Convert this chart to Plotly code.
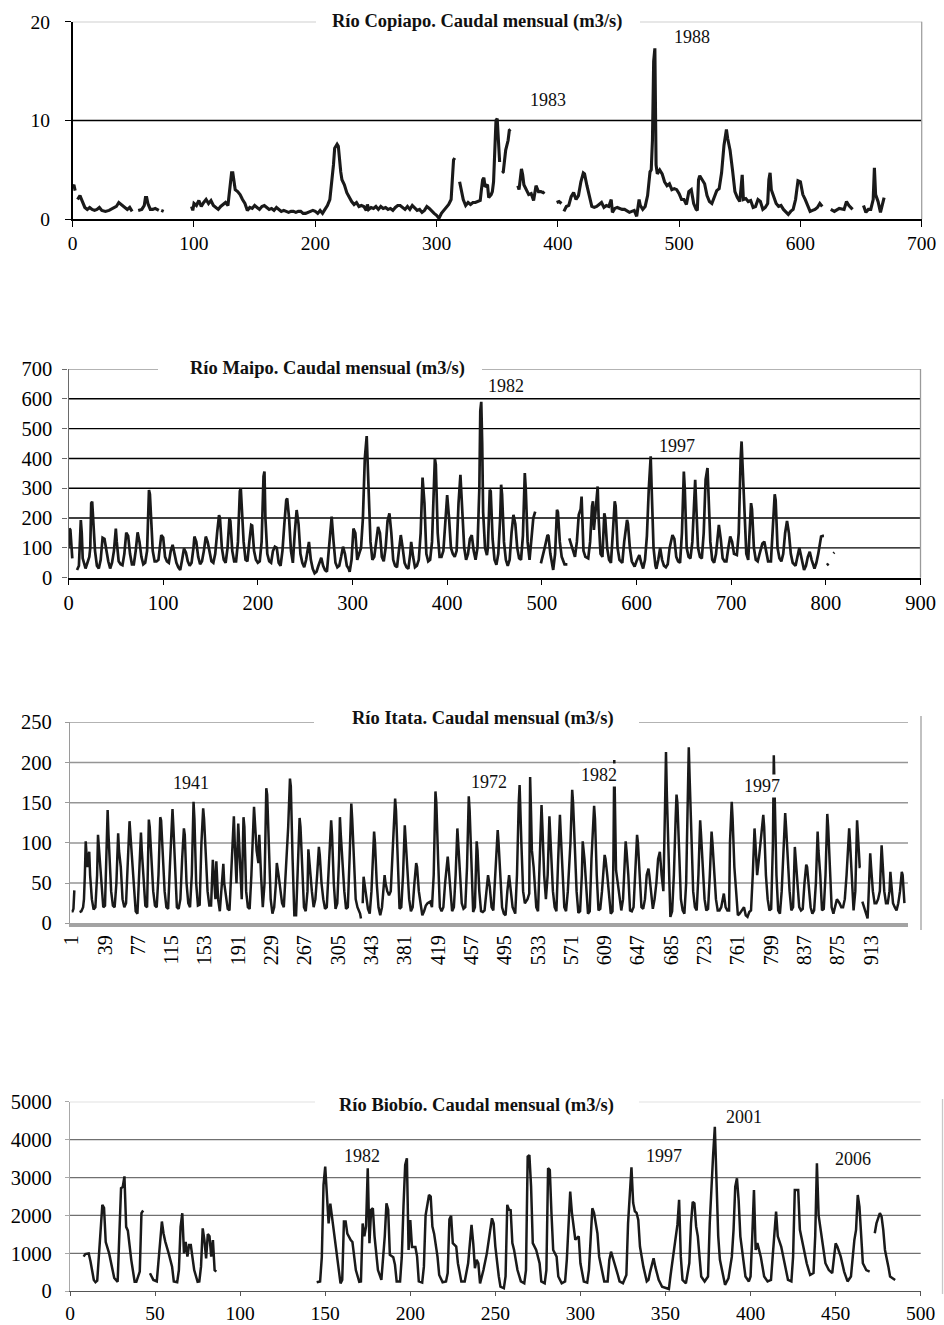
import plotly.graph_objects as go

W, H = 944, 1325

# ---------------------------------------------------------------
# Monthly discharge records, (month index, m3/s); None = gap
# ---------------------------------------------------------------
copiapo = [
    (0, 3.3), (1, 3.5), (2, 2.9), None,
    (4, 2.0), (6, 2.4), (7, 2.1), (9, 1.6), (10, 1.2), (12, 1.0), (14, 1.2), (16, 1.0), (18, 0.9),
    (20, 1.0), (22, 1.2), (24, 0.9), (27, 0.8), (30, 0.9), (33, 1.1), (36, 1.3), (38, 1.7), (40, 1.5),
    (42, 1.4), (45, 1.0), (47, 1.2), (49, 0.8), None,
    (54, 0.9), (57, 1.0), (59, 1.4), (60, 2.2), (61, 2.2), (62, 1.6), (64, 1.0), (66, 1.0), (68, 1.1),
    (70, 0.9), (71, 0.9), None, (73, 0.9), (75, 0.8), None,
    (98, 1.3), (99, 0.9), (100, 1.6), (102, 1.4), (104, 1.9), (106, 1.3), (108, 1.7), (110, 2.0),
    (112, 1.6), (114, 1.9), (116, 1.4), (118, 1.2), (120, 1.0), (122, 1.3), (124, 1.5), (126, 1.7),
    (128, 1.4), (129, 2.4), (130, 4.0), (131, 4.7), (132, 4.7), (133, 3.8), (134, 3.0), (136, 2.8),
    (138, 2.5), (140, 2.0), (142, 1.6), (144, 0.9), (146, 1.2), (148, 1.1), (150, 1.4), (152, 1.2),
    (154, 1.0), (156, 1.3), (158, 1.4), (160, 1.2), (162, 1.0), (164, 1.1), (166, 0.9), (168, 1.2),
    (170, 1.0), (172, 0.8), (174, 0.9), (176, 0.8), (178, 0.7), (180, 0.8), (182, 0.8), (184, 0.7),
    (186, 0.8), (188, 0.8), (190, 0.6), (192, 0.6), (194, 0.7), (196, 0.8), (198, 0.9), (200, 0.8),
    (202, 0.6), (204, 0.9), (206, 0.6), (208, 1.0), (210, 1.4), (212, 2.0), (214, 4.0), (215, 5.5),
    (216, 7.2), (217, 7.4), (218, 7.6), (219, 7.4), (220, 5.5), (221, 4.8), (222, 4.0), (224, 3.5),
    (226, 2.7), (228, 2.2), (230, 1.8), (232, 1.5), (234, 1.7), (236, 1.3), (238, 1.4), (240, 1.3),
    (242, 0.9), (243, 1.5), (244, 1.0), (246, 1.2), (248, 1.1), (250, 1.3), (252, 1.0), (254, 1.3),
    (256, 1.1), (258, 1.2), (260, 1.0), (262, 1.1), (264, 0.9), (266, 1.2), (268, 1.4), (270, 1.4),
    (272, 1.2), (274, 1.0), (276, 1.3), (278, 1.0), (280, 1.4), (282, 1.1), (284, 0.9), (286, 1.0),
    (288, 0.7), (290, 0.9), (292, 1.3), (294, 1.1), (296, 0.8), (298, 0.6), (300, 0.4), (302, 0.1),
    (304, 0.6), (306, 0.9), (308, 1.3), (310, 1.5), (312, 2.0), (313, 4.0), (314, 6.0), (315, 6.2), None,
    (319, 3.8), (320, 3.2), (322, 2.0), (324, 1.4), (326, 1.7), (328, 1.5), (330, 1.7), (332, 1.7),
    (334, 1.8), (336, 1.9), (337, 3.0), (338, 4.0), (339, 4.2), (340, 3.3), (342, 3.5), (343, 2.2),
    (345, 2.5), (346, 2.8), (347, 3.8), (348, 7.0), (349, 10.0), (350, 10.2), (351, 8.5), (352, 5.8), None,
    (354, 4.7), (355, 4.8), (357, 7.0), (359, 8.0), (360, 9.0), (361, 9.1), None,
    (367, 3.4), (368, 3.0), (370, 5.1), (371, 4.5), (372, 3.5), (374, 3.0), (376, 2.5), (378, 2.6),
    (380, 1.9), (382, 3.4), (384, 2.8), (386, 2.8), (388, 2.7), (389, 2.8), None,
    (399, 1.7), (401, 1.8), (403, 1.6), None,
    (405, 0.8), (407, 1.3), (409, 1.4), (411, 2.3), (413, 2.7), (415, 2.0), (417, 2.4), (419, 3.8),
    (421, 4.7), (422, 4.6), (424, 3.4), (426, 2.2), (428, 1.3), (430, 1.2), (432, 1.3), (434, 1.5),
    (436, 1.7), (438, 1.2), (440, 1.4), (442, 1.3), (444, 2.0), (445, 0.7), (447, 1.1), (449, 1.2),
    (451, 1.1), (453, 1.0), (455, 1.0), (457, 0.8), (459, 0.7), (461, 0.8), (463, 0.9), (465, 0.3),
    (467, 2.0), (468, 1.4), (470, 1.0), (472, 1.3), (474, 2.4), (476, 4.8), (477, 5.0), (478, 8.0),
    (479, 16.0), (480, 17.3), (481, 5.5), (482, 4.6), (484, 5.0), (486, 4.6), (488, 3.8), (490, 3.4),
    (492, 3.6), (494, 3.0), (496, 3.1), (498, 3.0), (500, 2.6), (502, 2.0), (504, 2.0), (506, 1.5),
    (508, 2.8), (510, 3.0), (512, 1.6), (514, 1.0), (515, 0.9), (516, 4.0), (517, 4.4), (519, 4.0),
    (521, 3.6), (523, 2.4), (525, 1.8), (527, 1.6), (529, 2.3), (531, 2.9), (533, 3.1), (535, 4.7),
    (537, 7.5), (539, 9.1), (540, 8.2), (542, 7.0), (544, 5.0), (546, 2.8), (548, 2.2), (550, 1.8),
    (552, 4.5), (553, 2.0), (555, 2.1), (557, 1.8), (559, 1.9), (561, 1.2), (563, 1.3), (565, 2.0),
    (567, 1.8), (569, 1.0), (571, 1.2), (573, 1.6), (574, 4.0), (575, 4.7), (576, 3.0), (578, 2.4),
    (580, 1.6), (582, 1.3), (584, 1.4), (586, 1.0), (588, 0.8), (590, 0.5), (592, 0.8), (594, 1.0),
    (596, 2.0), (598, 3.9), (600, 3.8), (602, 2.5), (604, 2.0), (606, 1.3), (608, 0.8), (610, 0.9),
    (612, 1.0), (614, 1.2), (616, 1.6), (618, 1.3), None,
    (625, 1.0), (628, 0.8), (632, 1.1), (636, 1.0), (638, 1.8), (640, 1.4), (643, 1.0), None,
    (652, 1.4), (654, 0.7), (656, 1.0), (658, 1.0), (660, 2.0), (661, 5.2), (662, 2.5), (664, 1.8),
    (666, 0.7), (668, 1.8), (669, 2.2),
]

maipo = [
    (0, 100), (1, 165), (2, 160), (3, 90), (4, 65), None,
    (9, 26), (11, 40), (13, 193), (14, 150), (15, 65), (17, 40), (18, 31), (20, 50), (22, 70), (23, 100),
    (24, 250), (25, 255), (26, 188), (28, 90), (30, 40), (32, 31), (34, 60), (36, 134), (38, 130),
    (40, 90), (42, 55), (44, 31), (46, 50), (48, 90), (50, 165), (51, 120), (53, 55), (55, 45), (57, 42),
    (59, 80), (61, 151), (63, 140), (65, 80), (67, 45), (69, 45), (71, 90), (73, 152), (75, 120),
    (77, 70), (79, 45), (81, 50), (83, 90), (85, 294), (86, 280), (87, 200), (89, 90), (91, 55),
    (93, 55), (95, 60), (97, 110), (98, 143), (100, 135), (102, 70), (104, 55), (106, 50), (108, 90),
    (110, 110), (112, 80), (114, 50), (116, 35), (118, 26), (120, 60), (122, 98), (124, 85), (126, 55),
    (128, 40), (130, 50), (132, 100), (133, 138), (135, 120), (137, 70), (139, 45), (141, 55), (143, 90),
    (145, 138), (147, 120), (149, 80), (151, 55), (153, 50), (155, 80), (157, 150), (159, 210),
    (160, 200), (162, 100), (164, 60), (166, 50), (168, 100), (170, 200), (171, 190), (173, 90),
    (175, 55), (177, 55), (179, 120), (181, 290), (182, 300), (183, 250), (185, 120), (187, 60),
    (189, 55), (191, 120), (193, 177), (194, 175), (196, 90), (198, 60), (200, 50), (202, 55),
    (204, 120), (206, 340), (207, 356), (208, 200), (210, 80), (212, 55), (214, 50), (216, 90),
    (218, 104), (220, 100), (222, 50), (224, 40), (226, 90), (228, 180), (230, 260), (231, 266),
    (233, 200), (235, 90), (237, 50), (239, 150), (241, 227), (243, 180), (245, 80), (247, 50),
    (249, 35), (251, 60), (253, 110), (254, 120), (256, 60), (258, 30), (260, 15), (262, 20), (264, 40),
    (266, 60), (267, 67), (269, 40), (271, 25), (273, 20), (275, 100), (277, 190), (278, 205),
    (280, 120), (282, 50), (284, 35), (286, 40), (288, 70), (290, 104), (292, 80), (294, 40), (296, 30),
    (297, 20), (299, 60), (301, 165), (303, 150), (305, 60), (307, 80), (309, 100), (311, 200),
    (313, 400), (315, 475), (317, 300), (319, 120), (321, 60), (323, 70), (325, 120), (327, 170),
    (329, 150), (331, 70), (333, 55), (335, 100), (337, 190), (339, 216), (341, 150), (343, 60),
    (345, 40), (347, 35), (349, 90), (351, 143), (353, 100), (355, 50), (357, 35), (359, 30), (361, 80),
    (362, 120), (364, 70), (366, 35), (368, 40), (370, 60), (372, 150), (374, 336), (376, 250),
    (378, 80), (380, 55), (382, 60), (384, 120), (386, 300), (387, 400), (388, 380), (390, 150),
    (392, 70), (394, 70), (396, 90), (398, 180), (400, 277), (402, 200), (404, 100), (406, 80),
    (408, 70), (410, 90), (412, 250), (414, 345), (416, 200), (418, 100), (420, 60), (422, 80),
    (424, 130), (426, 143), (428, 90), (430, 60), (432, 100), (434, 300), (435, 560), (436, 590),
    (437, 450), (438, 220), (440, 100), (442, 76), (443, 100), (445, 295), (446, 290), (448, 130),
    (450, 60), (452, 43), (454, 80), (456, 200), (457, 312), (458, 280), (460, 120), (462, 60),
    (464, 40), (466, 60), (468, 150), (470, 211), (472, 180), (474, 100), (476, 65), (478, 60),
    (480, 140), (482, 351), (483, 300), (485, 120), (487, 60), (489, 120), (491, 200), (493, 222), None,
    (499, 48), (501, 70), (503, 100), (506, 143), (507, 140), (509, 80), (512, 26), (514, 80),
    (516, 228), (517, 220), (519, 120), (521, 70), (524, 45), (527, 45), None,
    (529, 132), (531, 110), (533, 85), (535, 70), (537, 120), (539, 211), (541, 230), (542, 272),
    (544, 90), (546, 70), (549, 65), (551, 120), (553, 240), (554, 256), (555, 160), (557, 250),
    (559, 306), (560, 200), (562, 80), (564, 70), (566, 216), (567, 200), (569, 100), (571, 60),
    (573, 50), (575, 150), (577, 256), (578, 240), (580, 100), (582, 60), (585, 50), (587, 120),
    (590, 194), (591, 180), (593, 100), (595, 55), (598, 37), (600, 55), (603, 76), (605, 50),
    (607, 31), (609, 60), (611, 140), (613, 300), (615, 407), (616, 300), (618, 100), (620, 40),
    (621, 30), (623, 60), (625, 100), (627, 60), (629, 40), (631, 35), (633, 45), (635, 100),
    (638, 143), (640, 130), (642, 70), (644, 55), (646, 50), (648, 150), (650, 356), (651, 300),
    (653, 100), (655, 70), (657, 65), (659, 120), (661, 300), (662, 328), (663, 250), (665, 100),
    (667, 70), (669, 65), (671, 150), (673, 330), (675, 368), (676, 300), (678, 120), (680, 60),
    (682, 50), (684, 80), (686, 150), (687, 177), (689, 130), (691, 65), (693, 55), (695, 55),
    (697, 100), (699, 138), (701, 120), (703, 80), (706, 76), (708, 150), (710, 400), (711, 457),
    (712, 380), (714, 200), (716, 80), (718, 60), (720, 180), (721, 250), (722, 230), (724, 100),
    (726, 60), (728, 55), (730, 80), (733, 115), (735, 121), (737, 80), (739, 55), (742, 55),
    (744, 150), (746, 280), (747, 260), (749, 100), (751, 65), (753, 55), (755, 80), (757, 150),
    (759, 190), (761, 150), (763, 80), (765, 50), (768, 40), (770, 70), (772, 100), (774, 70),
    (777, 26), (779, 40), (781, 70), (783, 87), (785, 60), (788, 31), (790, 50), (792, 80),
    (795, 138), (797, 140), (798, 140), None,
    (801, 42), (803, 47), None,
    (808, 82), (809, 85),
]

itata = [
    (1, 15), (2, 15), (3, 18), (4, 41), None,
    (10, 14), (12, 15), (14, 20), (15, 30), (16, 60), (17, 102), (18, 85), (19, 70), (20, 80), (21, 89),
    (22, 60), (24, 30), (26, 17), (28, 20), (30, 60), (31, 110), (32, 95), (33, 80), (35, 40), (37, 20),
    (39, 22), (41, 90), (42, 141), (43, 110), (44, 80), (46, 40), (48, 22), (50, 20), (52, 50),
    (54, 112), (55, 90), (57, 70), (59, 30), (61, 20), (63, 25), (65, 70), (67, 127), (68, 110),
    (70, 80), (72, 40), (74, 15), (76, 12), (78, 60), (80, 113), (81, 90), (83, 50), (85, 22), (87, 20),
    (89, 129), (90, 120), (92, 70), (94, 40), (96, 22), (98, 20), (100, 60), (102, 132), (103, 128),
    (105, 80), (107, 40), (109, 20), (111, 18), (113, 70), (116, 142), (117, 120), (119, 60), (121, 20),
    (123, 18), (125, 30), (127, 80), (129, 118), (130, 110), (132, 50), (134, 25), (136, 20), (138, 60),
    (140, 151), (141, 130), (143, 50), (145, 22), (147, 23), (149, 100), (151, 143), (152, 130),
    (154, 80), (156, 40), (158, 22), (160, 22), (162, 79), (163, 60), (165, 30), (166, 77), (168, 30),
    (170, 15), (172, 40), (174, 74), (175, 50), (177, 30), (179, 18), (181, 16), (183, 60), (186, 133),
    (187, 100), (189, 50), (191, 124), (193, 80), (195, 30), (197, 132), (198, 120), (200, 40),
    (202, 20), (204, 18), (206, 60), (209, 145), (210, 130), (212, 90), (214, 75), (215, 110), (217, 60),
    (219, 20), (221, 50), (223, 168), (224, 160), (226, 80), (228, 30), (230, 12), (232, 20), (234, 50),
    (235, 75), (237, 60), (239, 45), (241, 25), (243, 20), (245, 60), (248, 120), (250, 180), (251, 170),
    (253, 80), (255, 10), (257, 10), (259, 60), (261, 131), (262, 120), (264, 60), (266, 20), (268, 15),
    (270, 40), (271, 92), (273, 60), (275, 40), (277, 20), (279, 30), (281, 60), (283, 95), (284, 85),
    (286, 50), (288, 30), (290, 18), (292, 20), (294, 70), (297, 128), (298, 110), (300, 50), (302, 18),
    (304, 25), (306, 80), (307, 132), (308, 110), (310, 70), (312, 40), (314, 18), (316, 20), (318, 80),
    (320, 149), (321, 130), (323, 70), (325, 30), (327, 20), (330, 12), (331, 6), None,
    (333, 25), (334, 58), (335, 50), (337, 30), (339, 18), (341, 12), (343, 40), (346, 114), (347, 100),
    (349, 50), (351, 20), (353, 10), (355, 20), (358, 60), (359, 50), (361, 40), (363, 35), (365, 40),
    (367, 90), (370, 155), (371, 140), (373, 70), (375, 18), (377, 20), (379, 60), (381, 122), (382, 100),
    (384, 60), (386, 30), (388, 15), (390, 20), (392, 50), (394, 75), (395, 70), (397, 40), (399, 25),
    (401, 10), (403, 15), (405, 22), (407, 25), (410, 27), (412, 20), (414, 60), (416, 164), (417, 150),
    (419, 80), (421, 20), (423, 15), (425, 20), (427, 50), (430, 83), (431, 70), (433, 40), (435, 15),
    (437, 20), (439, 60), (441, 118), (442, 100), (444, 50), (446, 25), (448, 18), (450, 20), (452, 70),
    (454, 158), (455, 140), (457, 60), (459, 14), (461, 20), (463, 102), (464, 90), (466, 40), (468, 15),
    (470, 14), (472, 16), (474, 40), (476, 60), (478, 45), (480, 20), (482, 16), (484, 60), (487, 116),
    (488, 100), (490, 50), (492, 20), (494, 12), (496, 10), (498, 40), (500, 60), (502, 40), (504, 20),
    (507, 12), (509, 60), (511, 150), (512, 172), (514, 100), (516, 40), (518, 25), (521, 30), (523, 37),
    (524, 182), (525, 140), (526, 91), (528, 70), (530, 30), (531, 20), (533, 15), (535, 80), (537, 147),
    (538, 120), (540, 60), (542, 30), (544, 60), (546, 133), (548, 90), (550, 40), (552, 20), (554, 15),
    (556, 80), (558, 135), (559, 110), (561, 60), (563, 20), (565, 15), (567, 40), (570, 100), (572, 166),
    (573, 150), (575, 80), (577, 40), (579, 13), (581, 15), (583, 60), (584, 102), (586, 80), (588, 40),
    (590, 12), (592, 15), (594, 80), (597, 146), (598, 130), (600, 60), (602, 16), (604, 18), (606, 40),
    (609, 85), (610, 80), (612, 60), (614, 30), (616, 12), (618, 15), (619, 80), (620, 203), (621, 150),
    (622, 66), (624, 50), (626, 30), (628, 16), (630, 30), (633, 102), (634, 90), (636, 60), (638, 16),
    (640, 15), (642, 20), (644, 60), (646, 110), (647, 100), (649, 50), (651, 20), (653, 18), (655, 30),
    (657, 60), (659, 68), (660, 60), (662, 40), (664, 18), (666, 30), (668, 50), (670, 80), (672, 89),
    (674, 60), (676, 40), (678, 150), (679, 213), (680, 160), (682, 80), (684, 8), (686, 15), (688, 60),
    (690, 130), (691, 160), (692, 150), (694, 80), (696, 30), (698, 16), (700, 12), (702, 50), (704, 150),
    (705, 219), (706, 180), (708, 100), (710, 40), (712, 20), (714, 16), (716, 60), (718, 128), (719, 110),
    (721, 60), (723, 30), (725, 16), (727, 18), (729, 60), (731, 114), (732, 100), (734, 60), (736, 30),
    (738, 16), (740, 16), (742, 20), (745, 37), (747, 20), (749, 16), (751, 16), (752, 100), (754, 151),
    (755, 130), (757, 70), (759, 40), (761, 10), (763, 12), (765, 15), (768, 20), (770, 10), (772, 8),
    (774, 14), (776, 16), (778, 60), (780, 118), (781, 100), (783, 60), (785, 80), (787, 100), (790, 135),
    (791, 120), (793, 60), (795, 30), (797, 16), (799, 18), (801, 100), (802, 209), (803, 150), (805, 60),
    (807, 16), (809, 12), (811, 40), (813, 100), (815, 137), (816, 120), (818, 70), (820, 40), (822, 16),
    (824, 20), (826, 95), (827, 80), (829, 40), (831, 20), (833, 16), (835, 18), (837, 50), (839, 73),
    (840, 70), (842, 40), (844, 20), (846, 12), (848, 16), (850, 50), (852, 114), (853, 90), (855, 60),
    (857, 16), (859, 18), (861, 60), (863, 136), (864, 120), (866, 60), (868, 20), (870, 12), (872, 20),
    (874, 30), (877, 25), (879, 20), (881, 20), (883, 30), (885, 60), (888, 118), (889, 100), (891, 50),
    (893, 16), (895, 40), (897, 128), (898, 110), (900, 70), (901, 70), None,
    (903, 27), (905, 20), (907, 16), (909, 6), (910, 30), (912, 87), (913, 70), (915, 40), (917, 25),
    (919, 25), (921, 30), (923, 40), (925, 97), (926, 80), (928, 40), (930, 25), (932, 25), (934, 40),
    (935, 64), (936, 50), (938, 25), (940, 20), (942, 16), (944, 25), (946, 40), (948, 64), (949, 60),
    (951, 25),
]

biobio = [
    (8, 914), (9, 980), (11, 1000), (12, 800), (14, 300), (15, 240), (16, 280), (17, 1000), (18, 1600),
    (19, 2280), (20, 2200), (21, 1300), (23, 1000), (25, 570), (26, 350), (28, 250), (29, 1440),
    (30, 2720), (31, 2750), (32, 3030), (33, 1700), (34, 1600), (36, 830), (38, 250), (39, 250),
    (41, 520), (42, 2060), (43, 2130), None,
    (47, 475), (49, 300), (51, 260), (52, 740), (53, 1300), (54, 1840), (55, 1520), (56, 1310),
    (58, 1000), (60, 650), (61, 260), (63, 240), (64, 560), (65, 1700), (66, 2060), (67, 1000),
    (68, 1300), (69, 914), (70, 1220), (71, 1220), (73, 560), (75, 250), (76, 260), (77, 650),
    (78, 1660), (79, 1350), (80, 870), (81, 1510), (82, 1450), (83, 914), (84, 1350), (85, 560),
    (86, 520), None,
    (145, 237), (147, 260), (148, 900), (149, 2800), (150, 3290), (151, 2650), (152, 1790), (153, 2310),
    (155, 1620), (156, 1310), (158, 520), (159, 210), (160, 300), (161, 1840), (162, 1840), (163, 1520),
    (165, 1350), (166, 1300), (168, 560), (170, 250), (171, 260), (172, 1790), (173, 1450), (174, 1710),
    (175, 3245), (176, 1270), (177, 2150), (178, 2190), (179, 1450), (180, 1000), (181, 560), (183, 300),
    (185, 1450), (186, 2320), (187, 2150), (188, 960), (190, 900), (191, 700), (192, 260), (194, 260),
    (195, 900), (196, 2230), (197, 3330), (198, 3510), (199, 1090), (200, 1880), (201, 1170), (203, 1170),
    (204, 914), (205, 260), (207, 230), (208, 650), (209, 2000), (211, 2540), (212, 2500), (213, 1710),
    (214, 1520), (216, 914), (217, 430), (219, 240), (221, 260), (222, 480), (223, 1900), (224, 1990),
    (225, 1270), (227, 1180), (228, 740), (230, 260), (232, 260), (234, 740), (236, 1750), (237, 1270),
    (238, 610), (239, 830), (240, 740), (241, 210), (243, 560), (245, 1000), (247, 1580), (248, 1925),
    (249, 1790), (250, 1180), (252, 400), (253, 120), (255, 80), (256, 390), (257, 2280), (258, 2150),
    (259, 2140), (260, 1270), (261, 1090), (263, 560), (265, 260), (267, 210), (268, 560), (269, 3550),
    (270, 3590), (271, 2760), (272, 1270), (273, 1180), (274, 1090), (276, 740), (277, 260), (279, 210),
    (280, 560), (281, 3245), (282, 3200), (283, 2040), (284, 1090), (286, 914), (287, 390), (289, 210),
    (291, 260), (292, 830), (294, 2630), (295, 2070), (296, 1710), (297, 1360), (299, 1450), (300, 740),
    (302, 260), (304, 230), (305, 560), (307, 2190), (308, 2070), (309, 1790), (310, 1530), (311, 914),
    (313, 520), (314, 260), (316, 260), (317, 830), (318, 1045), (319, 914), (320, 740), (322, 430),
    (323, 260), (325, 210), (327, 430), (328, 1790), (330, 3270), (331, 2330), (332, 2110), (333, 2070),
    (334, 1880), (335, 1180), (337, 650), (339, 260), (340, 300), (341, 520), (343, 870), (344, 650),
    (346, 300), (348, 120), (350, 80), (352, 60), (353, 430), (355, 1090), (356, 1450), (357, 1750),
    (358, 2410), (359, 914), (360, 300), (362, 210), (364, 740), (365, 1790), (366, 2360), (367, 2320),
    (368, 1710), (369, 1450), (370, 914), (371, 390), (373, 260), (375, 390), (376, 1790), (377, 2850),
    (378, 3600), (379, 4340), (380, 3030), (381, 1450), (382, 830), (384, 390), (385, 170), (387, 340),
    (389, 914), (390, 1620), (391, 2760), (392, 2980), (393, 2400), (394, 1450), (395, 1090), (397, 390),
    (399, 260), (400, 390), (401, 1450), (402, 2670), (403, 1090), (404, 1270), (406, 914), (408, 390),
    (410, 260), (412, 300), (413, 914), (415, 2100), (416, 1450), (418, 1180), (420, 740), (422, 300),
    (424, 260), (425, 914), (426, 2670), (428, 2670), (429, 1620), (431, 1180), (433, 740), (435, 430),
    (437, 480), (438, 1450), (439, 3375), (440, 2000), (442, 1350), (444, 740), (446, 560), (448, 480),
    (450, 1265), (451, 1180), (453, 914), (455, 520), (457, 260), (459, 390), (461, 1350), (462, 1620),
    (463, 2540), (464, 2230), (466, 740), (468, 560), (470, 520), None,
    (473, 1530), (474, 1790), (476, 2060), (477, 1970), (478, 1620), (479, 1090), (481, 650), (482, 390),
    (485, 300),
]

titles = [
    "Río Copiapo. Caudal mensual (m3/s)",
    "Río Maipo. Caudal mensual (m3/s)",
    "Río Itata. Caudal mensual (m3/s)",
    "Río Biobío. Caudal mensual (m3/s)",
]

itata_ticks = list(range(1, 914, 38))

# year labels: (text, x px, y px) for each panel
years_copiapo = [("1983", 548, 100), ("1988", 692, 37)]
years_maipo = [("1982", 506, 386), ("1997", 677, 446)]
years_itata = [("1941", 191, 783), ("1972", 489, 782), ("1982", 599, 775), ("1997", 762, 786)]
years_biobio = [("1982", 362, 1156), ("1997", 664, 1156), ("2001", 744, 1117), ("2006", 853, 1159)]


def split(points):
    xs, ys = [], []
    for p in points:
        if p is None:
            xs.append(None)
            ys.append(None)
        else:
            xs.append(p[0])
            ys.append(p[1])
    return xs, ys


def px(x):
    return x / W


def py(y):
    return 1 - y / H


SERIF = "Liberation Serif"
LINE = "#1a1a1a"

# panel geometry in pixels: left, right, top, bottom
panels = [
    dict(l=72.7, r=921.7, t=21.7, b=219.3),
    dict(l=68.5, r=920.5, t=369.0, b=577.7),
    dict(l=70.0, r=908.0, t=722.3, b=923.3),
    dict(l=70.0, r=920.7, t=1101.7, b=1291.3),
]

fig = go.Figure()

series = [copiapo, maipo, itata, biobio]
widths = [3.1, 2.7, 2.5, 2.5]
for i, (s, w) in enumerate(zip(series, widths)):
    xs, ys = split(s)
    fig.add_trace(go.Scatter(
        x=xs, y=ys, mode="lines", connectgaps=False,
        line=dict(color=LINE, width=w),
        xaxis="x" if i == 0 else f"x{i+1}",
        yaxis="y" if i == 0 else f"y{i+1}",
        hoverinfo="skip",
    ))


def xdom(p):
    return [px(p["l"]), px(p["r"])]


def ydom(p):
    return [py(p["b"]), py(p["t"])]


common = dict(showgrid=False, zeroline=False, automargin=False)

fig.update_layout(
    width=W, height=H, margin=dict(l=0, r=0, t=0, b=0, pad=0),
    paper_bgcolor="white", plot_bgcolor="white", showlegend=False,
    font=dict(family=SERIF, color="black"),
    xaxis=dict(domain=xdom(panels[0]), range=[0, 700], dtick=100, anchor="y",
               showline=True, linecolor="black", linewidth=1.5, ticks="outside", ticklen=6,
               tickcolor="black", tickfont=dict(size=19.5, family=SERIF), **common),
    yaxis=dict(domain=ydom(panels[0]), range=[0, 20], dtick=10, anchor="x",
               showline=True, linecolor="black", linewidth=1.5, ticks="outside", ticklen=6,
               tickcolor="black", ticklabelstandoff=11,
               tickfont=dict(size=19.5, family=SERIF), **common),
    xaxis2=dict(domain=xdom(panels[1]), range=[0, 900], dtick=100, anchor="y2",
                showline=True, linecolor="black", linewidth=1.5, ticks="outside", ticklen=6,
                tickcolor="black", tickfont=dict(size=20.5, family=SERIF), **common),
    yaxis2=dict(domain=ydom(panels[1]), range=[0, 700], dtick=100, anchor="x2",
                showline=True, linecolor="#6a6a6a", linewidth=1.2, ticks="outside", ticklen=5,
                tickcolor="#6a6a6a", ticklabelstandoff=6,
                tickfont=dict(size=20.5, family=SERIF), **common),
    xaxis3=dict(domain=xdom(panels[2]), range=[-0.94, 955.1], anchor="y3",
                tickmode="array", tickvals=itata_ticks, ticktext=[str(v) for v in itata_ticks],
                tickangle=-90, showline=True, linecolor="#a3a3a3", linewidth=4, ticks="",
                tickfont=dict(size=20, family=SERIF), **common),
    yaxis3=dict(domain=ydom(panels[2]), range=[0, 250], dtick=50, anchor="x3",
                showline=True, linecolor="#9a9a9a", linewidth=1.2, ticks="outside", ticklen=4,
                tickcolor="#9a9a9a", ticklabelstandoff=9,
                tickfont=dict(size=20.5, family=SERIF), **common),
    xaxis4=dict(domain=xdom(panels[3]), range=[0, 500], dtick=50, anchor="y4",
                showline=True, linecolor="#555555", linewidth=1.3, ticks="outside", ticklen=4,
                tickcolor="#555555", tickfont=dict(size=19.5, family=SERIF), **common),
    yaxis4=dict(domain=ydom(panels[3]), range=[0, 5000], dtick=1000, anchor="x4",
                showline=True, linecolor="#a8a8a8", linewidth=1.2, ticks="outside", ticklen=4,
                tickcolor="#a8a8a8", ticklabelstandoff=9,
                tickfont=dict(size=20.5, family=SERIF), **common),
)

shapes = []
grid_specs = [
    ([10], "black", 1.4, 20, "#a0a0a0", True),
    ([100, 200, 300, 400, 500, 600], "black", 1.4, 700, "#9a9a9a", True),
    ([50, 100, 150, 200], "#959595", 1.5, 250, "#9a9a9a", False),
    ([1000, 2000, 3000, 4000], "#707070", 1.2, 5000, "#c4c4c4", False),
]
for i, (vals, gcol, gw, top, bcol, right_border) in enumerate(grid_specs):
    xr = "x domain" if i == 0 else f"x{i+1} domain"
    yr = "y" if i == 0 else f"y{i+1}"
    ydr = "y domain" if i == 0 else f"y{i+1} domain"
    for v in vals:
        shapes.append(dict(type="line", xref=xr, yref=yr, x0=0, x1=1, y0=v, y1=v,
                           line=dict(color=gcol, width=gw), layer="below"))
    shapes.append(dict(type="line", xref=xr, yref=yr, x0=0, x1=1, y0=top, y1=top,
                       line=dict(color=bcol, width=1.3), layer="below"))
    if right_border:
        shapes.append(dict(type="line", xref=xr, yref=ydr, x0=1, x1=1, y0=0, y1=1,
                           line=dict(color=bcol, width=1.3), layer="below"))

# outer frame edges visible at the right of the lower two panels
shapes.append(dict(type="line", xref="paper", yref="paper", x0=px(921), x1=px(921),
                   y0=py(716), y1=py(930), line=dict(color="#a0a0a0", width=1.3)))
shapes.append(dict(type="line", xref="paper", yref="paper", x0=px(942.5), x1=px(942.5),
                   y0=py(1099), y1=py(1294), line=dict(color="#c8c8c8", width=1.3)))

# white boxes behind the panel titles
title_boxes = [(316, 640, 21.7, 476.5), (158, 482, 369.0, 327), (314, 639, 722.3, 483), (315, 639, 1101.7, 476.5)]
for (x0, x1, yc, tx), title in zip(title_boxes, titles):
    shapes.append(dict(type="rect", xref="paper", yref="paper", x0=px(x0), x1=px(x1),
                       y0=py(yc + 8), y1=py(yc - 8), fillcolor="white", line=dict(width=0)))

annotations = []
title_y = [22, 368, 718, 1105]
for (x0, x1, yc, tx), title, ty in zip(title_boxes, titles, title_y):
    annotations.append(dict(text=f"<b>{title}</b>", x=px(tx), y=py(ty), xref="paper", yref="paper",
                            xanchor="center", yanchor="middle", showarrow=False,
                            font=dict(size=18.5, family=SERIF, color="#111111")))

for group, bg in [(years_copiapo, None), (years_maipo, None), (years_itata, "white"), (years_biobio, None)]:
    for text, x, y in group:
        a = dict(text=text, x=px(x), y=py(y), xref="paper", yref="paper", xanchor="center",
                 yanchor="middle", showarrow=False, font=dict(size=18, family=SERIF, color="#111111"))
        if bg:
            a["bgcolor"] = bg
            a["borderpad"] = 1
        annotations.append(a)

fig.update_layout(shapes=shapes, annotations=annotations)

# page without body margin so the figure fills the window exactly
fig.write_html(
    "out.html",
    post_script="document.body.style.margin='0';document.body.style.padding='0';"
                "document.documentElement.style.overflow='hidden';",
)
